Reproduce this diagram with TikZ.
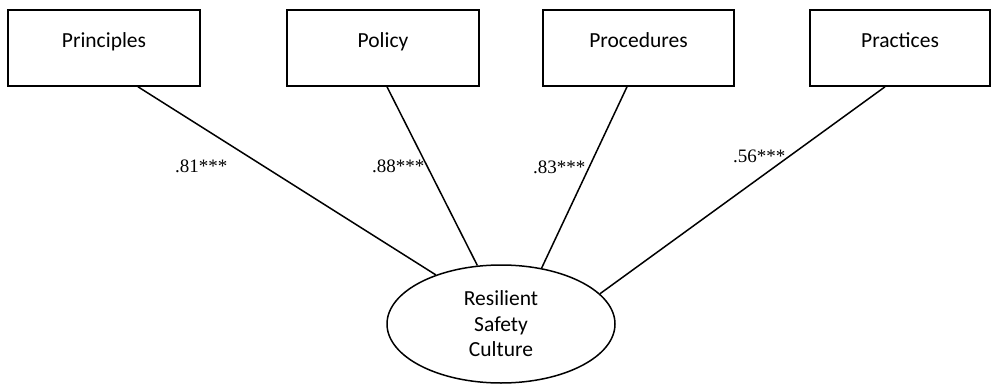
\documentclass[tikz,border=0pt]{standalone}
\usepackage{fontspec}
\setmainfont{Carlito}
\newfontfamily\labfont{Liberation Serif}
\usetikzlibrary{shapes.geometric,calc}
\begin{document}
\begin{tikzpicture}[x=1pt,y=1pt,
  box/.style={draw,line width=1.6pt,rectangle,inner sep=0pt,minimum height=76pt,
    text height=15pt,text depth=15pt,font=\fontsize{21.5}{26}\selectfont},
  latent/.style={draw,line width=1.5pt,ellipse,inner sep=0pt,minimum width=228pt,minimum height=118pt,
    align=center,font=\fontsize{21.5}{25.5}\selectfont},
  path/.style={line width=1.5pt},
  coef/.style={anchor=base west,inner sep=0pt,font=\labfont\fontsize{19}{21}\selectfont}]
\useasboundingbox (0,0) rectangle (992,386);
\node[box,minimum width=192pt] (p1) at (104,338) {Principles};
\node[box,minimum width=192pt] (p2) at (383,338) {Policy};
\node[box,minimum width=191pt] (p3) at (638.5,338) {Procedures};
\node[box,minimum width=180pt] (p4) at (900,338) {Practices};
\node[latent] (rsc) at (501,62) {Resilient\\Safety\\Culture};
\draw[path] ($(p1.south)+(34,0)$) -- (rsc.143);
\draw[path] ($(p2.south)+(4,0)$) -- (rsc.112);
\draw[path] ($(p3.south)+(-11.5,0)$) -- (rsc.54);
\draw[path] ($(p4.south)+(-15,0)$) -- (rsc.17);
\node[coef] (c1) at (175,214) {.81***};
\node[coef] (c2) at (372,214) {.88***};
\node[coef] (c3) at (533,213) {.83***};
\node[coef] (c4) at (733,223) {.56***};
\end{tikzpicture}
\end{document}
